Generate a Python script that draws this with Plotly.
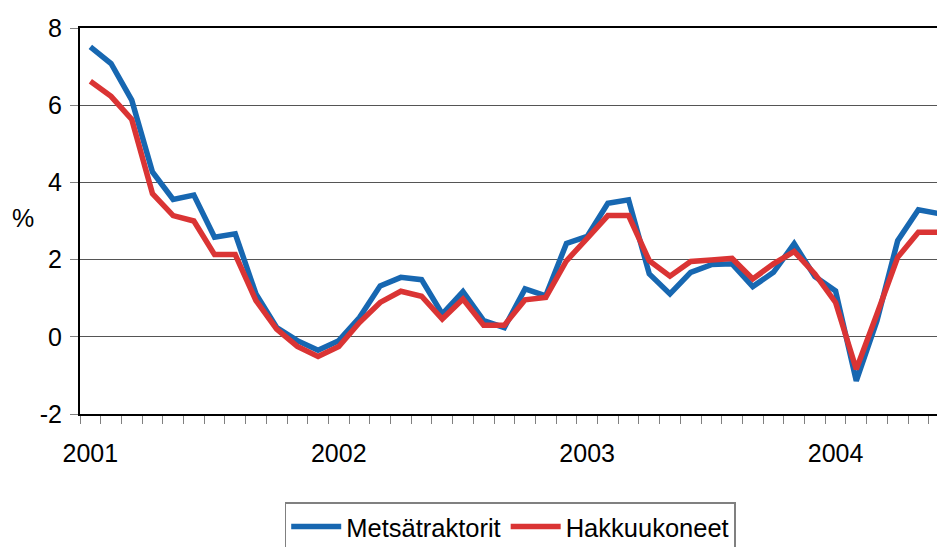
import plotly.graph_objects as go

months = list(range(42))  # Jan 2001 .. Jun 2004
year_ticks = [0, 12, 24, 36]
year_labels = ["2001", "2002", "2003", "2004"]
y_ticks = [-2, 0, 2, 4, 6, 8]
y_labels = ["-2", "0", "2", "4", "6", "8"]

metsatraktorit = [7.51, 7.08, 6.13, 4.27, 3.56, 3.67, 2.58, 2.67, 1.11, 0.24, -0.10, -0.35,
                  -0.10, 0.50, 1.32, 1.54, 1.48, 0.59, 1.17, 0.42, 0.24, 1.24, 1.06, 2.42,
                  2.60, 3.46, 3.55, 1.63, 1.11, 1.67, 1.87, 1.89, 1.30, 1.67, 2.41, 1.56,
                  1.19, -1.14, 0.42, 2.49, 3.29, 3.19]
hakkuukoneet = [6.62, 6.23, 5.63, 3.71, 3.14, 3.00, 2.13, 2.13, 0.94, 0.20, -0.25, -0.51,
                -0.25, 0.37, 0.89, 1.18, 1.05, 0.46, 0.98, 0.30, 0.30, 0.96, 1.02, 1.97,
                2.55, 3.14, 3.14, 1.97, 1.57, 1.95, 1.99, 2.03, 1.50, 1.89, 2.21, 1.63,
                0.89, -0.84, 0.59, 2.06, 2.71, 2.71]

BLUE = "#1767B1"
RED = "#DA3434"

fig = go.Figure()
fig.add_trace(go.Scatter(x=months, y=metsatraktorit, name="Metsätraktorit",
                         mode="lines", line=dict(color=BLUE, width=5.5)))
fig.add_trace(go.Scatter(x=months, y=hakkuukoneet, name="Hakkuukoneet",
                         mode="lines", line=dict(color=RED, width=5.5)))

font = dict(family="Liberation Sans, Arial, sans-serif", size=25, color="black")
legend_font = dict(family="Liberation Sans, Arial, sans-serif", size=25.5, color="black")

fig.update_layout(
    width=937, height=547,
    margin=dict(l=80, r=0, t=28, b=133, autoexpand=False),
    paper_bgcolor="white", plot_bgcolor="white",
    font=font,
    showlegend=True,
    legend=dict(orientation="h", x=0.502, xanchor="center", y=-0.228, yanchor="top",
                bordercolor="#808080", borderwidth=1.5, font=legend_font,
                itemwidth=50, tracegroupgap=0),
    xaxis=dict(range=[-0.5, 40.9], tickvals=year_ticks, ticktext=year_labels,
               ticks="outside", ticklen=16, tickcolor="rgba(0,0,0,0)",
               showgrid=False, zeroline=False,
               showline=True, linecolor="black", linewidth=2, mirror=True,
               minor=dict(tick0=-0.5, dtick=1, ticks="outside", ticklen=8,
                          tickcolor="#808080", tickwidth=1, showgrid=False),
               tickfont=font),
    yaxis=dict(range=[-2, 8], tickvals=y_ticks, ticktext=y_labels,
               ticks="outside", ticklen=8, tickcolor="#808080", tickwidth=1,
               showgrid=True, gridcolor="#555555", gridwidth=1,
               zeroline=False, showline=True, linecolor="black", linewidth=2,
               ticklabelstandoff=3, tickfont=font),
)

fig.add_annotation(text="%", xref="paper", yref="paper", x=-0.067, y=(414 - 218) / 386,
                   xanchor="center", yanchor="middle", showarrow=False, font=font)

fig.write_html("out.html", config={"displayModeBar": False},
               post_script="document.body.style.margin='0';document.body.style.overflow='hidden';")
